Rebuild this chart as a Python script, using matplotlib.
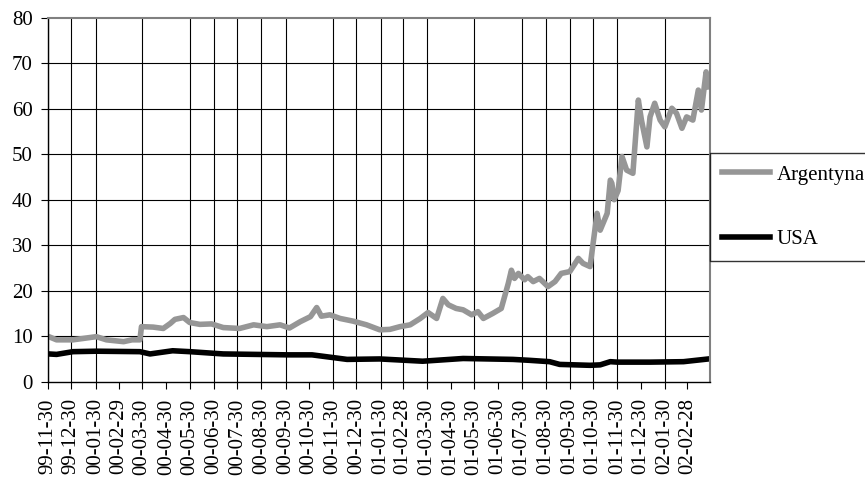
import datetime as dt
import matplotlib
matplotlib.use("Agg")
import matplotlib.pyplot as plt

plt.rcParams['font.family'] = ['Liberation Serif', 'DejaVu Serif']

# Argentyna (gray line)
arg_dates = ["1999-12-01", "1999-12-11", "2000-01-01", "2000-01-14", "2000-01-31",
             "2000-02-13", "2000-03-06", "2000-03-17", "2000-03-27", "2000-03-29",
             "2000-04-13", "2000-04-26", "2000-05-05", "2000-05-11", "2000-05-22",
             "2000-05-30", "2000-06-12", "2000-06-27", "2000-07-12", "2000-08-02",
             "2000-08-20", "2000-09-06", "2000-09-23", "2000-10-05", "2000-10-19",
             "2000-11-01", "2000-11-09", "2000-11-15", "2000-11-26", "2000-12-09",
             "2000-12-26", "2001-01-12", "2001-01-29", "2001-02-11", "2001-02-24",
             "2001-03-09", "2001-03-22", "2001-04-01", "2001-04-12", "2001-04-20",
             "2001-04-27", "2001-05-07", "2001-05-16", "2001-05-27", "2001-06-04",
             "2001-06-11", "2001-06-23", "2001-07-04", "2001-07-13", "2001-07-17",
             "2001-07-21", "2001-07-26", "2001-08-03", "2001-08-07", "2001-08-14",
             "2001-08-22", "2001-09-02", "2001-09-11", "2001-09-19", "2001-09-30",
             "2001-10-11", "2001-10-17", "2001-10-26", "2001-11-04", "2001-11-08",
             "2001-11-17", "2001-11-21", "2001-11-23", "2001-11-26", "2001-12-01",
             "2001-12-06", "2001-12-12", "2001-12-20", "2001-12-27", "2001-12-31",
             "2002-01-07", "2002-01-11", "2002-01-17", "2002-01-24", "2002-01-30",
             "2002-02-08", "2002-02-14", "2002-02-21", "2002-02-27", "2002-03-07",
             "2002-03-14", "2002-03-18", "2002-03-24", "2002-03-27"]
arg_values = [9.9, 9.2, 9.2, 9.5, 9.9,
              9.2, 8.8, 9.2, 9.2, 12.1,
              12.0, 11.7, 12.8, 13.7, 14.1,
              13.0, 12.6, 12.7, 11.9, 11.7,
              12.5, 12.1, 12.5, 11.8, 13.2,
              14.3, 16.3, 14.4, 14.7, 13.9,
              13.3, 12.5, 11.4, 11.5, 12.1,
              12.5, 13.9, 15.2, 13.9, 18.3,
              16.9, 16.1, 15.8, 14.7, 15.4,
              13.9, 15.0, 16.1, 21.6, 24.5,
              22.7, 23.8, 22.4, 23.1, 22.0,
              22.7, 20.9, 22.0, 23.8, 24.2,
              27.1, 26.0, 25.3, 37.0, 33.3,
              37.0, 44.3, 43.6, 40.0, 42.0,
              49.5, 46.5, 45.8, 61.9, 57.5,
              51.6, 58.2, 61.2, 57.5, 56.0,
              60.1, 59.0, 55.7, 58.2, 57.5,
              64.1, 59.7, 68.1, 64.8]

# USA (black line)
usa_dates = ["1999-12-01", "1999-12-11", "2000-01-01", "2000-01-31", "2000-03-27",
             "2000-04-09", "2000-05-08", "2000-05-30", "2000-07-12", "2000-10-03",
             "2000-11-03", "2000-12-18", "2001-01-29", "2001-03-25", "2001-05-16",
             "2001-07-19", "2001-08-09", "2001-09-04", "2001-09-17", "2001-10-26",
             "2001-11-08", "2001-11-21", "2001-11-30", "2002-01-11", "2002-02-23",
             "2002-03-27"]
usa_values = [6.1, 6.0, 6.6, 6.7, 6.6,
              6.1, 6.8, 6.6, 6.1, 5.9,
              5.9, 4.9, 5.0, 4.5, 5.1,
              4.9, 4.7, 4.4, 3.8, 3.6,
              3.7, 4.4, 4.3, 4.3, 4.4,
              5.0]

tick_labels = ["99-11-30", "99-12-30", "00-01-30", "00-02-29", "00-03-30", "00-04-30",
               "00-05-30", "00-06-30", "00-07-30", "00-08-30", "00-09-30", "00-10-30",
               "00-11-30", "00-12-30", "01-01-30", "01-02-28", "01-03-30", "01-04-30",
               "01-05-30", "01-06-30", "01-07-30", "01-08-30", "01-09-30", "01-10-30",
               "01-11-30", "01-12-30", "02-01-30", "02-02-28"]
# which of the ticks carry a vertical gridline in the original
grid_on = [1, 1, 1, 0, 1, 0, 1, 1, 1, 1, 1, 0, 1, 1, 1, 1, 1, 0, 1, 0, 1, 1, 1, 1, 1, 0, 1, 0]


def to_date(s):
    return dt.datetime.strptime(s, "%Y-%m-%d")


tick_dates = [dt.datetime.strptime(t, "%y-%m-%d") for t in tick_labels]

fig = plt.figure(figsize=(8.65, 4.8), dpi=100)
ax = fig.add_axes([0.0555, 0.2048, 0.7653, 0.7583])

ax.plot([to_date(d) for d in arg_dates], arg_values, color="#969696", lw=4.0,
        label="Argentyna", solid_joinstyle="round")
ax.plot([to_date(d) for d in usa_dates], usa_values, color="black", lw=4.0,
        label="USA", solid_joinstyle="round")

for d, g in zip(tick_dates, grid_on):
    if g:
        ax.axvline(d, color="black", lw=0.8, zorder=0)
for y in range(10, 80, 10):
    ax.axhline(y, color="black", lw=0.8, zorder=0)

ax.set_xlim(dt.datetime(1999, 11, 30), dt.datetime(2002, 3, 29))
ax.set_ylim(0, 80)
ax.set_yticks(range(0, 81, 10))
ax.set_xticks(tick_dates)
ax.set_xticklabels(tick_labels, rotation=90, fontsize=15)
ax.tick_params(axis="y", labelsize=15, direction="out", length=5, pad=6)
ax.tick_params(axis="x", direction="out", length=5, pad=7)

for side in ["top", "right"]:
    ax.spines[side].set_color("#808080")
    ax.spines[side].set_linewidth(1.5)
for side in ["left", "bottom"]:
    ax.spines[side].set_color("black")
    ax.spines[side].set_linewidth(1.0)

leg = ax.legend(loc="center left", bbox_to_anchor=(1.0, 0.48), fontsize=15,
                frameon=True, fancybox=False, borderaxespad=0, borderpad=0.6,
                labelspacing=2.15, handlelength=2.3, handletextpad=0.3)
leg.get_frame().set_edgecolor("black")
leg.get_frame().set_linewidth(1.0)

fig.savefig("out.png", dpi=100)
